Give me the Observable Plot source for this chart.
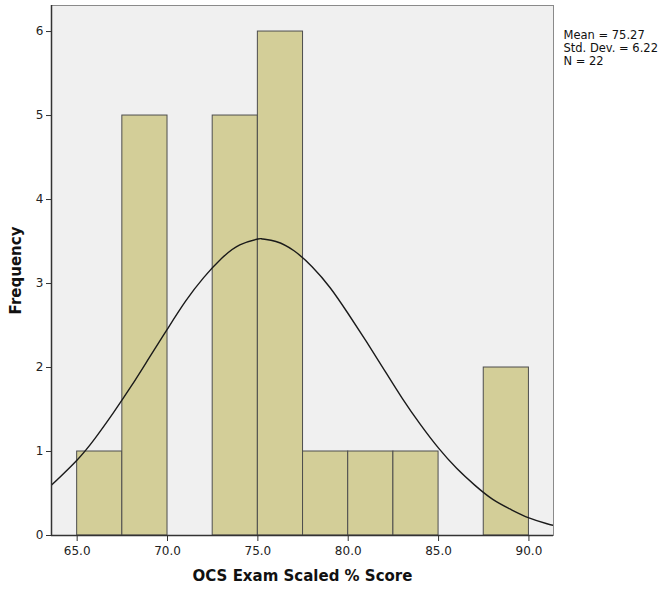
<!DOCTYPE html>
<html>
<head>
<meta charset="utf-8">
<script src="https://cdn.jsdelivr.net/npm/d3@7"></script>
<script src="https://cdn.jsdelivr.net/npm/@observablehq/plot@0.6"></script>
<style>
  html, body { margin: 0; padding: 0; background: #ffffff; }
  #chart svg { display: block; }
</style>
</head>
<body>
<div id="chart"></div>
<script>
// Histogram bins (OCS Exam Scaled % Score)
const binLow  = [65, 67.5, 70, 72.5, 75, 77.5, 80, 82.5, 85, 87.5];
const binHigh = [67.5, 70, 72.5, 75, 77.5, 80, 82.5, 85, 87.5, 90];
const counts  = [1, 5, 0, 5, 6, 1, 1, 1, 0, 2];

// Normal curve
const curveX = [63.58, 65, 66, 67, 68, 69, 70, 71, 72, 73, 74, 75, 75.27, 76, 77, 78, 79, 80, 81, 82, 83, 84, 85, 86, 87, 88, 89, 90, 91, 91.36];
const curveY = [0.60, 0.90, 1.16, 1.46, 1.78, 2.12, 2.46, 2.79, 3.07, 3.30, 3.46, 3.53, 3.53, 3.50, 3.39, 3.20, 2.95, 2.64, 2.31, 1.97, 1.63, 1.32, 1.04, 0.80, 0.60, 0.43, 0.31, 0.21, 0.14, 0.12];

const xTicks = [65, 70, 75, 80, 85, 90];
const yTicks = [0, 1, 2, 3, 4, 5, 6];
const statsText = ["Mean = 75.27", "Std. Dev. = 6.22", "N = 22"];
const xLabel = "OCS Exam Scaled % Score";
const yLabel = "Frequency";

const bins = binLow.map((lo, i) => ({lo, hi: binHigh[i], n: counts[i]})).filter(d => d.n > 0);
const curve = curveX.map((x, i) => ({x, y: curveY[i]}));

const xDomain = [63.58, 91.36];
const yDomain = [0, 6.31];

const chart = Plot.plot({
  width: 668,
  height: 592,
  marginLeft: 51,
  marginRight: 115,
  marginTop: 5,
  marginBottom: 57,
  style: {fontFamily: "DejaVu Sans, sans-serif", fontSize: "12px", color: "#222", background: "#ffffff"},
  x: {domain: xDomain},
  y: {domain: yDomain},
  marks: [
    Plot.frame({fill: "#f0f0f0", stroke: "#8a8a8a"}),
    Plot.rect(bins, {x1: "lo", x2: "hi", y1: 0, y2: "n", fill: "#d3ce98", stroke: "#4d4d4d", strokeWidth: 1}),
    Plot.line(curve, {x: "x", y: "y", curve: "natural", stroke: "#1a1a1a", strokeWidth: 1.4, clip: true}),
    Plot.ruleX([xDomain[0]], {stroke: "#333", strokeWidth: 1.5}),
    Plot.ruleY([0], {stroke: "#333", strokeWidth: 1.5}),
    Plot.axisY({ticks: yTicks, tickFormat: d3.format("d"), tickSize: 5, tickPadding: 3, label: null, stroke: "#333", fontSize: 12}),
    Plot.axisX({ticks: xTicks, tickFormat: d3.format(".1f"), tickSize: 6, tickPadding: 5, label: null, stroke: "#333", fontSize: 12}),
    Plot.text([xLabel], {frameAnchor: "bottom", dy: 45, fontSize: 15, fontWeight: "bold", fill: "#111"}),
    Plot.text([yLabel], {frameAnchor: "left", textAnchor: "middle", rotate: -90, dx: -35, fontSize: 15, fontWeight: "bold", fill: "#111"}),
    Plot.text([statsText.join("\n")], {frameAnchor: "top-right", dx: 10, dy: 25, textAnchor: "start", lineAnchor: "top", fontSize: 11.5, lineHeight: 1.1, fill: "#111"})
  ]
});
document.getElementById("chart").appendChild(chart);
</script>
</body>
</html>
